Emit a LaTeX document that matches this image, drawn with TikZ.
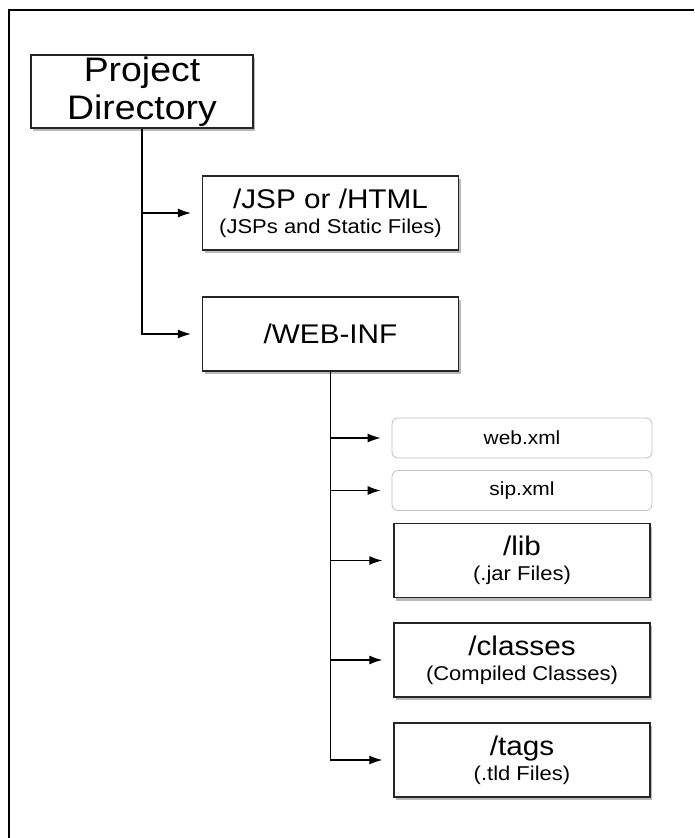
\documentclass[tikz,border=0pt]{standalone}
\usepackage{fontspec}
\setmainfont[FakeStretch=1.1]{Liberation Sans}
\usetikzlibrary{arrows.meta}
\usetikzlibrary{shadows}

\newcommand{\notefont}{\fontsize{20}{22}\selectfont}

\begin{document}
\begin{tikzpicture}[x=1pt,y=-1pt,
  >={Latex[length=13pt,width=9pt]},
  dirbox/.style={draw=black!85, line width=1.4pt, fill=white, inner sep=0pt, align=center,
    minimum width=256pt, minimum height=74pt, font=\fontsize{27}{25}\selectfont,
    drop shadow={shadow xshift=2pt, shadow yshift=-3pt, fill=black!50, opacity=0.55}},
  filebox/.style={draw=black!25, line width=0.8pt, rounded corners=6pt, fill=white, inner sep=0pt,
    minimum width=260pt, minimum height=40pt, font=\fontsize{19}{22}\selectfont},
  branch/.style={line width=1.1pt, ->, shorten >=11pt}]

\useasboundingbox (0,0) rectangle (694,838);

% outer frame (cut on the right and bottom)
\draw[line width=1.6pt] (694,10) -- (9,10) -- (9,838);

% top level
\node[dirbox, line width=2.2pt, minimum width=222pt, minimum height=73pt,
      font=\fontsize{34}{38}\selectfont] (project) at (142,91.5) {Project\\Directory};

\node[dirbox] (jsp) at (330.5,213) {/JSP or /HTML\\{\notefont (JSPs and Static Files)}};
\node[dirbox] (webinf) at (330.5,334) {/WEB-INF};

% contents of /WEB-INF
\node[filebox] (webxml) at (522,438) {web.xml};
\node[filebox] (sipxml) at (522,490.5) {sip.xml};
\node[dirbox] (lib) at (522,560.5) {/lib\\{\notefont (.jar Files)}};
\node[dirbox] (classes) at (522,660) {/classes\\{\notefont (Compiled Classes)}};
\node[dirbox] (tags) at (522,760) {/tags\\{\notefont (.tld Files)}};

% connectors
\draw[branch] (project.south) |- (jsp.west);
\draw[branch] (project.south) |- (webinf.west);

\draw[branch] (webinf.south) |- (webxml.west);
\draw[branch] (webinf.south) |- (sipxml.west);
\draw[branch] (webinf.south) |- (lib.west);
\draw[branch] (webinf.south) |- (classes.west);
\draw[branch] (webinf.south) |- (tags.west);

\end{tikzpicture}
\end{document}
